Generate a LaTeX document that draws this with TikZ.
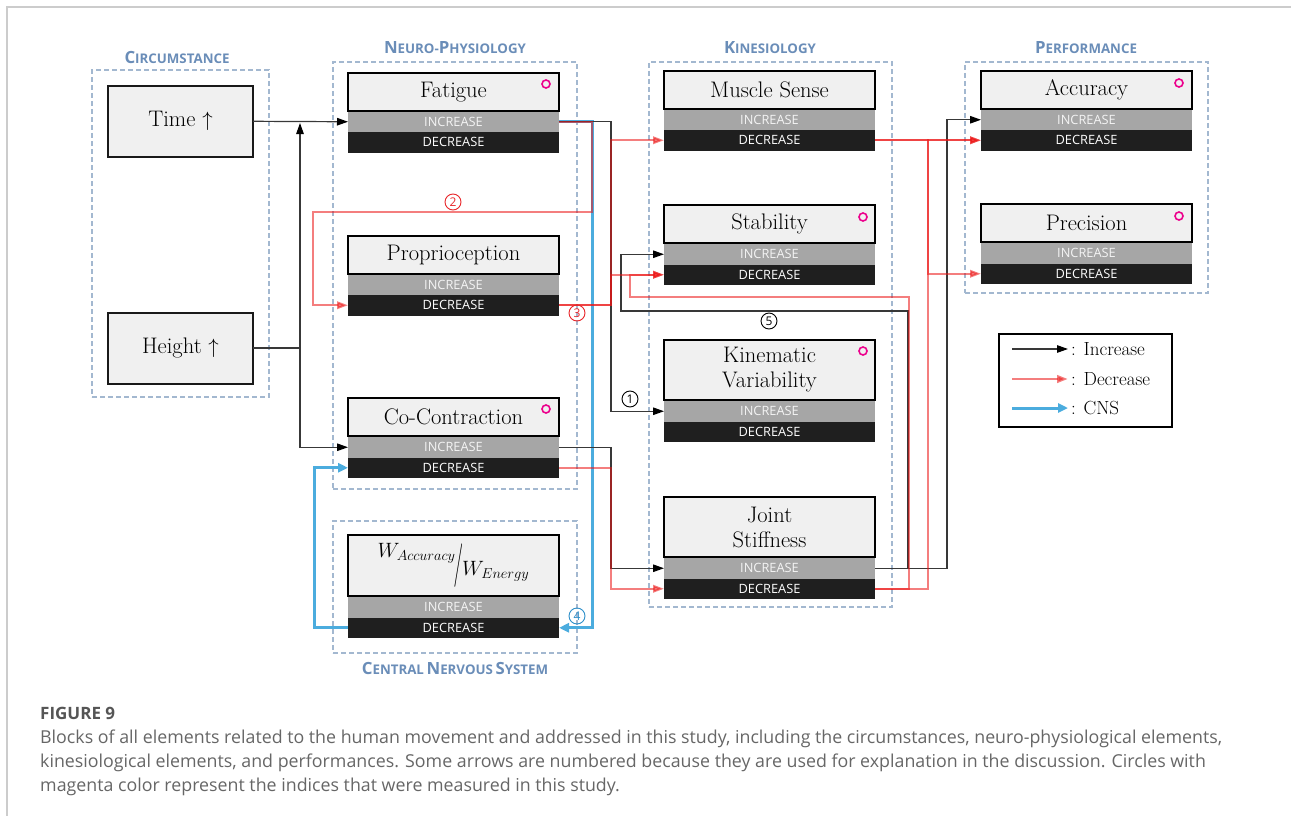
\documentclass[tikz,border=0pt]{standalone}
\usepackage{fontspec}
\usepackage{graphicx}
\usetikzlibrary{arrows.meta}
\newfontfamily\osans{Open Sans}
\definecolor{grpblue}{HTML}{A3B8D0}
\definecolor{lblblue}{HTML}{6A8DB8}
\definecolor{boxfill}{HTML}{F0F0F0}
\definecolor{incfill}{HTML}{A6A6A6}
\definecolor{incText}{HTML}{F4F4F4}
\definecolor{decfill}{HTML}{1F1F1F}
\definecolor{cnsblue}{HTML}{4BACDE}
\definecolor{decred}{HTML}{EB1414}
\definecolor{numred}{HTML}{E8262A}
\definecolor{numblue}{HTML}{2E8FC9}
\definecolor{capgray}{HTML}{666666}
\definecolor{figgray}{HTML}{555555}
\definecolor{framegray}{HTML}{CCCCCC}
\newcommand{\smcap}[2]{{\fontsize{16.8}{16.8}\selectfont #1}{\fontsize{13.3}{13.3}\selectfont #2}}
\newcommand{\mkblock}[5]{%
  \node[titlebox, minimum height=#4] (#1) at (#2,#3) {#5};
  \node[incb] (#1I) at ([yshift=-1pt]#1.south west) {INCREASE};
  \node[decb] (#1D) at (#1I.south west) {DECREASE};
}
\begin{document}
\begin{tikzpicture}[x=1pt,y=-1pt,
  grp/.style={draw=grpblue, dash pattern=on 5pt off 3pt, line width=1.8pt, anchor=north west, inner sep=0pt, outer sep=0pt},
  glabel/.style={font=\osans\bfseries, text=lblblue, inner sep=0pt},
  cbox/.style={draw=black!90, line width=2pt, fill=boxfill, minimum width=145, minimum height=71, inner sep=0pt, outer sep=0pt, font=\fontsize{22.5}{26}\selectfont},
  titlebox/.style={draw=black, line width=2pt, fill=boxfill, minimum width=211, inner sep=0pt, outer sep=0pt, anchor=north west, align=center, font=\fontsize{22.5}{25}\selectfont},
  band/.style={minimum width=211, minimum height=20.5, inner sep=0pt, outer sep=0pt, anchor=north west, font=\osans\fontsize{12.8}{12.8}\selectfont},
  incb/.style={band, fill=incfill, text=incText},
  decb/.style={band, fill=decfill, text=white},
  meas/.style={circle, draw=magenta, line width=1.6pt, minimum size=8, inner sep=0pt},
  num/.style={circle, draw, line width=0.9pt, minimum size=16, inner sep=0pt, font=\osans\fontsize{12}{12}\selectfont},
  inca/.style={draw=black!78, line width=1.2pt, -{Triangle[length=11pt,width=7.5pt,color=black]}},
  deca/.style={draw=decred, opacity=0.55, line width=2pt, -{Triangle[length=11pt,width=7.5pt]}},
  cnsa/.style={draw=cnsblue, line width=3pt, -{Triangle[length=10pt,width=9pt]}},
  legt/.style={anchor=west, inner sep=0pt, font=\fontsize{19}{19}\selectfont}
]
\useasboundingbox (0,0) rectangle (1291,816);
% frame
\draw[framegray, line width=1.2pt] (7,816) -- (7,7) -- (1291,7);

% groups
\node[grp, minimum width=177, minimum height=327] (gcirc) at (92,70) {};
\node[grp, minimum width=244, minimum height=427] (gneuro) at (333,62) {};
\node[grp, minimum width=244, minimum height=132] (gcns) at (333,521) {};
\node[grp, minimum width=243, minimum height=545] (gkin) at (649,62) {};
\node[grp, minimum width=243, minimum height=231] (gperf) at (965,62) {};

\node[glabel] (lcirc) at (177,57) {\smcap{C}{IRCUMSTANCE}};
\node[glabel] (lneuro) at (455,48) {\smcap{N}{EURO-}\smcap{P}{HYSIOLOGY}};
\node[glabel] (lkin) at (770,48) {\smcap{K}{INESIOLOGY}};
\node[glabel] (lperf) at (1086,48) {\smcap{P}{ERFORMANCE}};
\node[glabel] (lcns) at (455,668) {\smcap{C}{ENTRAL} \smcap{N}{ERVOUS} \smcap{S}{YSTEM}};

% circumstance boxes
\node[cbox] (time) at (180.5,121.3) {Time $\uparrow$};
\node[cbox] (height) at (180.5,348) {Height $\uparrow$};

% blocks
\mkblock{fat}{348}{73}{37.5}{Fatigue}
\mkblock{pro}{348}{236}{37.5}{Proprioception}
\mkblock{cc}{348}{398}{38}{Co-Contraction}
\mkblock{w}{348}{535}{61}{\raisebox{7pt}{$W_{Accuracy}$}\hspace{-2pt}\raisebox{-12pt}{\scalebox{1}[2.1]{$/$}}\hspace{-1pt}\raisebox{-11pt}{$W_{Energy}$}}
\mkblock{ms}{664}{71}{37.5}{Muscle Sense}
\mkblock{st}{664}{205}{38}{Stability}
\mkblock{kv}{664}{340}{60}{Kinematic\\Variability}
\mkblock{js}{664}{497}{60}{Joint\\Stiffness}
\mkblock{acc}{981}{71}{37.5}{Accuracy}
\mkblock{pre}{981}{204}{38}{Precision}

% measured markers
\node[meas] (mfat) at (546,84) {};
\node[meas] (mst) at (863,217) {};
\node[meas] (mkv) at (863,351) {};
\node[meas] (mcc) at (546,409) {};
\node[meas] (macc) at (1179,83) {};
\node[meas] (mpre) at (1179,216) {};

% CNS connectors
\draw[cnsa] (fatI.east) -| (592.5,400) |- (wD.east);
\draw[cnsa] (wD.west) -| (314,550) |- (ccD.west);

% increase connectors
\coordinate (tj) at (300,123);
\draw[inca] (time.east) -- (fatI.west);
\draw[inca] (height.east) -- (height.east -| tj) -- (tj);
\draw[inca] (height.east) -- (height.east -| tj) |- (ccI.west);
\draw[inca] (fatI.east) -| (611,300) |- (kvI.west);
\draw[inca] (ccI.east) -| (611,500) |- (jsI.west);
\draw[inca] (jsI.east) -| (908,400) |- (621,311) |- (stI.west);
\draw[inca] (jsI.east) -| (947,300) |- (accI.west);

% decrease connectors
\draw[deca] (fatI.east) -| (592,212) -| (313,260) |- (proD.west);
\draw[deca] (proD.east) -| (611,200) |- (msD.west);
\draw[deca] (proD.east) -| (611,290) |- (stD.west);
\draw[deca] (ccD.east) -| (611,520) |- (jsD.west);
\draw[deca] (jsD.east) -| (909,400) |- (630,297) |- (stD.west);
\draw[deca] (jsD.east) -| (928,300) |- (accD.west);
\draw[deca] (msD.east) -- (accD.west);
\draw[deca] (msD.east) -| (928,200) |- (preD.west);

% numbers
\node[num] (n1) at (630,399) {1};
\node[num, draw=numred, text=numred] (n2) at (453,202) {2};
\node[num, draw=numred, text=numred] (n3) at (577,313) {3};
\node[num, draw=numblue, text=numblue] (n4) at (577,616) {4};
\node[num] (n5) at (769,321) {5};

% legend
\node[draw=black, line width=1.5pt, minimum width=173, minimum height=93, anchor=north west, inner sep=0pt] (leg) at (998,333) {};
\node[legt] (lti) at (1071,349) {: Increase};
\node[legt] (ltd) at (1071,379) {: Decrease};
\node[legt] (ltc) at (1071,408) {: CNS};
\coordinate (lsi) at (1012,349);
\coordinate (lsd) at (1012,379);
\coordinate (lsc) at (1012,408);
\draw[inca] (lsi) -- ([xshift=-3pt]lti.west);
\draw[deca, line width=2.6pt] (lsd) -- ([xshift=-3pt]ltd.west);
\draw[cnsa] (lsc) -- ([xshift=-3pt]ltc.west);

% caption
\node[anchor=base west, inner sep=0pt, font=\osans\bfseries\fontsize{17}{17}\selectfont, text=figgray] (fig) at (40,719) {FIGURE 9};
\node[anchor=north west, inner sep=0pt, align=left, font=\osans\fontsize{17.8}{24}\selectfont, text=capgray] (cap) at (40,730) {Blocks of all elements related to the human movement and addressed in this study, including the circumstances, neuro-physiological elements,\\kinesiological elements, and performances. Some arrows are numbered because they are used for explanation in the discussion. Circles with\\magenta color represent the indices that were measured in this study.};
\end{tikzpicture}
\end{document}
